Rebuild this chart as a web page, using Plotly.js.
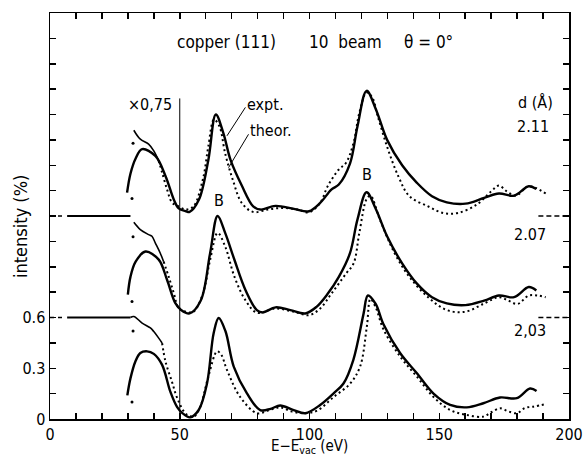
<!DOCTYPE html>
<html>
<head>
<meta charset="utf-8">
<script src="https://cdn.plot.ly/plotly-3.0.1.min.js"></script>
<style>html,body{margin:0;padding:0;background:#fff;}#chart{width:584px;height:458px;}</style>
</head>
<body>
<div id="chart"></div>
<script>
// ---- data (relative intensities; each group shifted by its baseline offset) ----
const SPACINGS = ['2,03', '2.07', '2.11'];
const OFFSETS = [0, 0.6, 1.2];

// d = 2.03 (bottom)
const E_EXPT_203 = [29.8, 31, 32.9, 34.8, 37.4, 40, 43.2, 46.4, 49, 51, 54, 57.3, 60.5, 63.1, 65, 67.6, 70.8, 75.9, 81, 85, 88.7, 93.9, 98.4, 104.1, 109.3, 113.1, 116.9, 120.8, 122.5, 125.5, 128.5, 134.9, 141.4, 147.8, 154.2, 160.6, 167, 173.4, 179.9, 185, 187.5];
const I_EXPT_203 = [0.14, 0.24, 0.34, 0.39, 0.40, 0.385, 0.32, 0.16, 0.07, 0.035, 0.01, 0.053, 0.21, 0.51, 0.597, 0.52, 0.31, 0.152, 0.053, 0.06, 0.08, 0.053, 0.034, 0.083, 0.152, 0.21, 0.35, 0.62, 0.73, 0.68, 0.56, 0.39, 0.27, 0.15, 0.083, 0.069, 0.093, 0.127, 0.123, 0.18, 0.165];
const E_LOW_203 = [31, 32.3, 35.5, 38.7, 40, 41.9, 43.2];
const I_LOW_203 = [0.6, 0.606, 0.567, 0.538, 0.517, 0.478, 0.449];
const E_THEO_203 = [43.2, 44.5, 47, 49, 52.4, 55.4, 57.9, 61, 64.4, 66, 68.2, 73.3, 79.8, 84, 88.7, 93, 98.4, 103, 109.3, 115.7, 119.5, 122.1, 123.5, 125.5, 128.5, 134.9, 141.4, 147.8, 154.2, 160.6, 167, 170, 173.4, 176.5, 179.9, 183, 186.3, 191.4];
const I_THEO_203 = [0.449, 0.34, 0.22, 0.125, 0.03, 0.014, 0.073, 0.25, 0.40, 0.38, 0.29, 0.13, 0.034, 0.05, 0.069, 0.045, 0.034, 0.05, 0.13, 0.21, 0.31, 0.547, 0.71, 0.66, 0.53, 0.37, 0.25, 0.13, 0.053, 0.024, 0.014, 0.04, 0.063, 0.046, 0.034, 0.065, 0.073, 0.089];

// d = 2.07 (middle)
const E_EXPT_207 = [30, 31, 33, 36.8, 41.9, 45.1, 48.3, 50.5, 53.8, 58.1, 61.7, 64.6, 67.5, 71.1, 75.4, 79.7, 82, 86.9, 92.6, 98.4, 102.7, 107, 111.3, 115.6, 118.5, 122, 125.6, 129.9, 135.7, 141.4, 147.2, 152.9, 160.1, 167.3, 173, 178.8, 184.5, 187.4];
const I_EXPT_207 = [0.135, 0.24, 0.33, 0.39, 0.342, 0.223, 0.085, 0.045, 0.024, 0.10, 0.38, 0.60, 0.50, 0.34, 0.16, 0.044, 0.03, 0.06, 0.044, 0.024, 0.063, 0.14, 0.24, 0.38, 0.58, 0.74, 0.64, 0.48, 0.32, 0.20, 0.12, 0.083, 0.073, 0.10, 0.13, 0.12, 0.18, 0.16];
const E_LOW_207 = [32.3, 34.8, 38, 39.3, 40.6, 42.5, 43.8];
const I_LOW_207 = [0.563, 0.52, 0.49, 0.48, 0.44, 0.38, 0.33];
const E_THEO_207 = [43.8, 45.7, 47.7, 49.6, 52.4, 55.3, 58.9, 61.7, 64.6, 67.5, 71.1, 75.4, 79.7, 86.9, 94, 99.8, 104.1, 108.4, 114.1, 117, 119.2, 122, 123.5, 127.1, 132.8, 138.5, 145.7, 152.9, 160.1, 167.3, 173, 176.6, 180.2, 184.5, 188, 191];
const I_THEO_207 = [0.33, 0.243, 0.145, 0.056, 0.034, 0.034, 0.14, 0.34, 0.50, 0.42, 0.24, 0.10, 0.028, 0.053, 0.034, 0.014, 0.053, 0.14, 0.26, 0.32, 0.50, 0.70, 0.72, 0.58, 0.38, 0.24, 0.12, 0.044, 0.034, 0.083, 0.12, 0.10, 0.08, 0.13, 0.13, 0.12];

// d = 2.11 (top)
const E_EXPT_211 = [29.7, 31, 33, 35.5, 40.6, 44.5, 47.7, 49.6, 52.4, 53.8, 57.4, 61, 63.9, 66.8, 69.6, 73.9, 78.3, 81.1, 86.9, 94, 99.8, 104.1, 108.4, 111.3, 115.6, 118.5, 122, 125.6, 129.9, 135.7, 141.4, 147.2, 152.9, 160.1, 167.3, 173, 178.8, 184.5, 187.4];
const I_EXPT_211 = [0.138, 0.25, 0.34, 0.395, 0.355, 0.237, 0.098, 0.045, 0.028, 0.024, 0.097, 0.33, 0.60, 0.49, 0.33, 0.18, 0.057, 0.038, 0.06, 0.042, 0.028, 0.077, 0.156, 0.186, 0.31, 0.53, 0.74, 0.63, 0.45, 0.30, 0.196, 0.117, 0.081, 0.073, 0.107, 0.133, 0.12, 0.176, 0.16];
const E_LOW_211 = [32.3, 34.8, 38, 40, 41.9];
const I_LOW_211 = [0.507, 0.454, 0.425, 0.385, 0.326];
const E_THEO_211 = [41.9, 43.2, 45.1, 47, 49.5, 52.4, 55.3, 58.9, 61, 63.2, 65.3, 67.5, 70.4, 73.9, 78.3, 84, 89.7, 95.5, 99.8, 104.1, 107, 111.3, 114.1, 117, 119.2, 122, 124.2, 126.3, 129.9, 134.2, 138.5, 145.7, 151.5, 157.2, 164.4, 170.1, 173, 175.9, 179.5, 184.5, 191];
const I_THEO_211 = [0.326, 0.257, 0.158, 0.08, 0.057, 0.038, 0.057, 0.216, 0.41, 0.57, 0.53, 0.37, 0.216, 0.077, 0.024, 0.038, 0.048, 0.038, 0.022, 0.077, 0.176, 0.275, 0.315, 0.434, 0.61, 0.73, 0.70, 0.59, 0.41, 0.236, 0.117, 0.057, 0.018, 0.018, 0.067, 0.147, 0.18, 0.147, 0.12, 0.176, 0.133];

// isolated start dots (relative)
const E_DOTS = [32, 31.6];
const I_DOTS_203 = [0.52, 0.10];
const I_DOTS_207 = [0.477, 0.095];
const I_DOTS_211 = [0.43, 0.104];

// reference lines / leader lines
const MARK_E = 50;          // vertical line at 50 eV
const MARK_TOP = 1.895;
const LEFT_DASH_E = [0, 5];
const LEFT_SOLID_E = [6.6, 31];
const RIGHT_DASH_E = [188.2, 200];
const LEADER_EXPT_E = [75.3, 68.2], LEADER_EXPT_I = [1.842, 1.674];
const LEADER_THEO_E = [76.5, 68.8], LEADER_THEO_I = [1.683, 1.486];

const X_TICKS = [0,10,20,30,40,50,60,70,80,90,100,110,120,130,140,150,160,170,180,190,200];
const X_LABELS = X_TICKS.map(v => v % 50 === 0 ? String(v) : '');
const Y_TICKS = [0,0.15,0.3,0.45,0.6,0.75,0.9,1.05,1.2,1.35,1.5,1.65,1.8,1.95,2.1,2.25,2.4];
const Y_LABELS = Y_TICKS.map(v => v === 0 ? '0' : (v === 0.3 ? '0.3' : (v === 0.6 ? '0.6' : '')));

const FONT = '"DejaVu Sans Condensed", "Liberation Sans Narrow", "DejaVu Sans", sans-serif';

const groups = [
  {eE: E_EXPT_203, iE: I_EXPT_203, eL: E_LOW_203, iL: I_LOW_203, eT: E_THEO_203, iT: I_THEO_203, dots: I_DOTS_203},
  {eE: E_EXPT_207, iE: I_EXPT_207, eL: E_LOW_207, iL: I_LOW_207, eT: E_THEO_207, iT: I_THEO_207, dots: I_DOTS_207},
  {eE: E_EXPT_211, iE: I_EXPT_211, eL: E_LOW_211, iL: I_LOW_211, eT: E_THEO_211, iT: I_THEO_211, dots: I_DOTS_211}
];

const traces = [];
groups.forEach((g, k) => {
  const off = OFFSETS[k];
  traces.push({x: g.eE, y: g.iE.map(v => v + off), mode: 'lines',
    line: {color: '#000', width: 2.4, shape: 'spline', smoothing: 1}, hoverinfo: 'skip'});
  traces.push({x: g.eL, y: g.iL.map(v => v + off), mode: 'lines',
    line: {color: '#000', width: 1.6, shape: 'spline', smoothing: 1}, hoverinfo: 'skip'});
  traces.push({x: g.eT, y: g.iT.map(v => v + off), mode: 'lines',
    line: {color: '#000', width: 2, dash: '2px,3px', shape: 'spline', smoothing: 1}, hoverinfo: 'skip'});
  traces.push({x: E_DOTS, y: g.dots.map(v => v + off), mode: 'markers',
    marker: {color: '#000', size: 3}, hoverinfo: 'skip'});
});

// baselines of the upper two groups
[OFFSETS[1], OFFSETS[2]].forEach(b => {
  traces.push({x: LEFT_DASH_E, y: [b, b], mode: 'lines', line: {color: '#000', width: 1.6, dash: '4px,4px'}, hoverinfo: 'skip', cliponaxis: false});
  traces.push({x: LEFT_SOLID_E, y: [b, b], mode: 'lines', line: {color: '#000', width: 2}, hoverinfo: 'skip'});
  traces.push({x: RIGHT_DASH_E, y: [b, b], mode: 'lines', line: {color: '#000', width: 1.4, dash: '5px,3px'}, hoverinfo: 'skip', cliponaxis: false});
});
// vertical marker line and leader lines
traces.push({x: [MARK_E, MARK_E], y: [0, MARK_TOP], mode: 'lines', line: {color: '#000', width: 1}, hoverinfo: 'skip'});
traces.push({x: LEADER_EXPT_E, y: LEADER_EXPT_I, mode: 'lines', line: {color: '#000', width: 1}, hoverinfo: 'skip'});
traces.push({x: LEADER_THEO_E, y: LEADER_THEO_I, mode: 'lines', line: {color: '#000', width: 1}, hoverinfo: 'skip'});

const txt = (x, y, text, size, extra) => Object.assign({x: x, y: y, xref: 'x', yref: 'y', text: text, showarrow: false,
  font: {family: FONT, size: size, color: '#000'}}, extra || {});

const L = 50, R = 15, T = 13, B = 39, W = 584, H = 458;
const PW = W - L - R, PH = H - T - B;

const annotations = [
  txt(68, 2.228, 'copper (111)', 17),
  txt(114, 2.228, '10  beam', 17),
  txt(146, 2.228, 'θ = 0°', 17),
  txt(38.5, 1.857, '×0,75', 16),
  txt(75.0, 1.857, 'expt.', 16, {xanchor: 'left'}),
  txt(76.2, 1.707, 'theor.', 16, {xanchor: 'left'}),
  txt(65, 1.29, 'B', 16),
  txt(122.1, 1.446, 'B', 16),
  txt(186.9, 1.871, 'd (Å)', 16),
  txt(186.0, 1.728, SPACINGS[2], 16),
  txt(184.8, 1.09, SPACINGS[1], 16),
  txt(184.8, 0.522, SPACINGS[0], 16),
  // axis titles
  {x: (20 - L) / PW, y: (H - B - 227) / PH, xref: 'paper', yref: 'paper', xanchor: 'center', yanchor: 'middle',
    text: 'intensity (%)', showarrow: false, textangle: -90,
    font: {family: FONT, size: 18, color: '#000'}},
  {x: 100, y: -(B - 0.5) / PH, xref: 'x', yref: 'paper', xanchor: 'center', yanchor: 'bottom',
    text: 'E−E<sub>vac</sub> (eV)', showarrow: false,
    font: {family: FONT, size: 15, color: '#000'}}
];

const axisCommon = {showline: true, linecolor: '#000', linewidth: 1.5, mirror: 'ticks', ticks: 'inside',
  ticklen: 6, tickwidth: 1.5, tickcolor: '#000', showgrid: false, zeroline: false, tickmode: 'array',
  tickfont: {family: FONT, size: 16, color: '#000'}};

const layout = {
  width: W, height: H,
  margin: {l: L, r: R, t: T, b: B, pad: 0},
  paper_bgcolor: '#fff', plot_bgcolor: '#fff',
  showlegend: false,
  xaxis: Object.assign({}, axisCommon, {range: [0, 200], tickvals: X_TICKS, ticktext: X_LABELS}),
  yaxis: Object.assign({}, axisCommon, {range: [0, 2.4], tickvals: Y_TICKS, ticktext: Y_LABELS}),
  annotations: annotations
};

Plotly.newPlot('chart', traces, layout, {staticPlot: true, displayModeBar: false});
</script>
</body>
</html>
